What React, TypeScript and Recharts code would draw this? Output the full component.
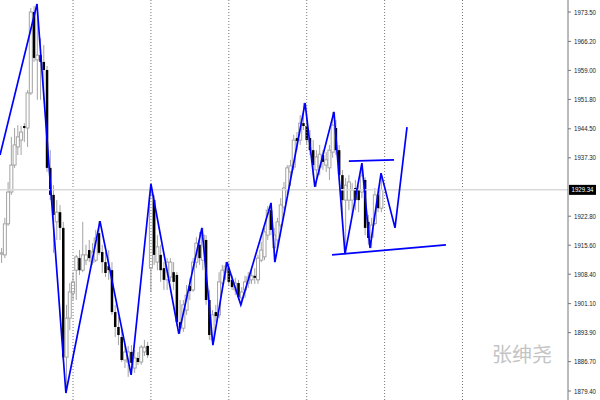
import React from 'react';
import { ComposedChart, Bar, Line, XAxis, YAxis, ReferenceLine } from 'recharts';

// H1 candles (index = bar number from the left edge)
const opens = [
  1913.4, 1913.2, 1920.9, 1928.8, 1935.5, 1940.0, 1941.7, 1945.2, 1944.7, 1953.4,
  1973.5, 1961.6, 1962.8, 1961.1, 1959.1, 1934.8, 1928.1, 1921.4, 1923.8, 1919.9,
  1887.8, 1897.5, 1903.7, 1909.4, 1912.4, 1909.4, 1911.9, 1914.4, 1911.4, 1911.9,
  1918.6, 1913.9, 1911.4, 1910.4, 1909.4, 1899.0, 1895.3, 1892.8, 1887.1, 1886.6,
  1889.1, 1885.1, 1887.6, 1886.6, 1889.1, 1890.6, 1909.9, 1926.8, 1911.4, 1913.2,
  1909.9, 1907.0, 1907.7, 1908.9, 1908.2, 1896.5, 1895.0, 1899.5, 1905.5, 1904.5,
  1911.4, 1915.7, 1911.9, 1916.9, 1902.0, 1892.1, 1899.0, 1898.3, 1906.2, 1908.9,
  1909.9, 1907.0, 1904.5, 1906.2, 1902.5, 1904.5, 1906.2, 1907.0, 1908.0, 1907.0,
  1911.9, 1912.7, 1918.1, 1924.3, 1915.0, 1916.9, 1920.6, 1925.1, 1929.3, 1933.8,
  1935.0, 1942.2, 1941.7, 1945.9, 1945.2, 1942.2, 1939.2, 1934.3, 1935.0, 1938.0,
  1935.5, 1934.8, 1938.7, 1944.7, 1939.2, 1933.0, 1926.8, 1926.8, 1926.8, 1929.8,
  1929.3, 1928.8, 1931.8, 1921.4, 1917.6, 1921.0, 1928.1, 1924.8,
];
const highs = [
  1914.9, 1922.4, 1931.3, 1942.5, 1944.7, 1945.4, 1945.2, 1945.9, 1954.1, 1974.5,
  1975.0, 1975.5, 1967.0, 1965.3, 1960.1, 1939.2, 1930.5, 1926.8, 1925.6, 1921.4,
  1900.8, 1906.2, 1908.9, 1913.2, 1914.4, 1921.4, 1915.7, 1916.9, 1916.1, 1919.4,
  1921.6, 1915.7, 1913.9, 1914.4, 1911.4, 1900.8, 1897.8, 1894.5, 1890.8, 1890.6,
  1890.8, 1889.6, 1889.1, 1890.8, 1892.1, 1891.6, 1931.0, 1928.1, 1918.1, 1915.7,
  1911.4, 1912.4, 1912.4, 1911.4, 1908.9, 1902.0, 1902.0, 1905.7, 1907.5, 1912.4,
  1917.6, 1918.9, 1919.9, 1918.1, 1904.5, 1899.5, 1900.8, 1908.9, 1910.7, 1911.4,
  1911.4, 1908.2, 1907.5, 1907.0, 1905.2, 1908.0, 1908.9, 1909.4, 1909.9, 1913.2,
  1916.4, 1919.9, 1925.3, 1926.1, 1919.9, 1922.4, 1927.3, 1931.3, 1935.5, 1936.8,
  1943.0, 1943.7, 1947.9, 1950.9, 1947.2, 1944.2, 1941.7, 1939.2, 1940.5, 1939.2,
  1938.7, 1940.5, 1948.7, 1946.7, 1940.5, 1934.3, 1932.3, 1933.0, 1931.0, 1931.8,
  1930.5, 1936.0, 1932.5, 1923.1, 1922.4, 1929.8, 1929.8, 1932.8,
];
const lows = [
  1911.2, 1912.4, 1920.4, 1928.1, 1934.8, 1938.0, 1938.0, 1941.2, 1940.0, 1952.9,
  1961.1, 1951.7, 1951.7, 1951.7, 1933.8, 1926.8, 1913.7, 1916.9, 1916.9, 1887.1,
  1878.9, 1894.5, 1902.0, 1902.0, 1908.2, 1908.9, 1910.7, 1911.4, 1910.7, 1911.4,
  1913.2, 1908.7, 1907.7, 1907.0, 1898.3, 1892.8, 1890.8, 1886.6, 1885.1, 1882.9,
  1883.4, 1883.9, 1885.9, 1885.9, 1888.1, 1887.6, 1904.0, 1910.7, 1909.4, 1906.5,
  1904.5, 1904.5, 1906.5, 1904.5, 1895.5, 1893.6, 1894.1, 1898.3, 1902.0, 1904.0,
  1909.9, 1910.7, 1909.4, 1900.8, 1892.1, 1890.8, 1896.5, 1897.5, 1904.5, 1907.0,
  1905.5, 1904.5, 1903.2, 1902.0, 1900.8, 1902.5, 1905.0, 1906.0, 1906.0, 1906.0,
  1911.4, 1911.9, 1916.9, 1918.1, 1911.4, 1914.4, 1919.9, 1924.3, 1928.1, 1930.3,
  1934.3, 1939.2, 1940.5, 1944.2, 1940.5, 1938.0, 1933.0, 1930.1, 1933.0, 1934.3,
  1933.8, 1931.8, 1937.3, 1938.0, 1931.8, 1923.1, 1914.4, 1924.3, 1923.1, 1924.3,
  1923.8, 1927.3, 1918.1, 1915.7, 1914.9, 1920.5, 1923.8, 1923.8,
];
const closes = [
  1913.7, 1920.9, 1928.8, 1935.5, 1940.5, 1942.5, 1943.7, 1944.7, 1953.4, 1973.5,
  1962.1, 1962.8, 1961.1, 1959.1, 1934.8, 1928.1, 1923.1, 1923.8, 1919.9, 1887.8,
  1897.5, 1904.0, 1906.5, 1912.7, 1909.4, 1913.2, 1913.2, 1912.4, 1913.9, 1917.4,
  1913.7, 1911.4, 1908.7, 1909.4, 1899.0, 1895.3, 1893.3, 1887.1, 1889.1, 1889.1,
  1886.4, 1887.6, 1886.6, 1890.3, 1890.3, 1888.3, 1928.1, 1913.2, 1915.2, 1909.4,
  1907.0, 1911.4, 1911.4, 1906.5, 1896.5, 1895.0, 1900.8, 1903.2, 1904.2, 1911.4,
  1916.1, 1912.4, 1918.1, 1902.0, 1893.3, 1898.3, 1898.0, 1906.5, 1909.4, 1910.4,
  1906.5, 1905.2, 1906.2, 1902.7, 1904.0, 1906.5, 1907.7, 1908.0, 1907.5, 1912.4,
  1914.4, 1918.9, 1924.3, 1919.4, 1918.1, 1921.4, 1925.6, 1929.8, 1934.8, 1935.3,
  1941.7, 1941.5, 1945.9, 1945.2, 1941.7, 1939.2, 1935.5, 1937.5, 1938.2, 1936.3,
  1936.8, 1939.2, 1945.4, 1939.2, 1933.0, 1926.8, 1930.5, 1931.3, 1929.3, 1926.8,
  1926.8, 1932.8, 1919.9, 1917.4, 1920.6, 1928.1, 1924.8, 1929.34,
];

// blue zigzag (bar position, price), last two legs are the projection
const zigzagBar = [
  -0.5, 10.9, 19.8, 30.3, 39.9, 46.0, 54.6, 61.7, 65.1, 69.4, 73.7,
  83.0, 84.2, 93.5, 96.5, 102.4, 105.8, 111.0, 113.5, 116.9, 121.2, 124.9,
];
const zigzagPrice = [
  1938.0, 1975.5, 1878.9, 1921.6, 1883.4, 1930.8, 1893.6, 1919.9, 1890.8, 1911.4, 1900.8,
  1926.1, 1911.4, 1950.9, 1930.1, 1948.7, 1913.4, 1936.0, 1914.9, 1933.5, 1919.9, 1944.9,
];

// hand drawn trend lines
const resistanceLine = [{ x: 107.0, y: 1936.5 }, { x: 120.9, y: 1936.8 }];
const supportLine = [{ x: 101.8, y: 1913.2 }, { x: 136.9, y: 1915.7 }];

const daySeparators = [22, 46, 70, 94, 118, 142];
const priceTicks = [
  1879.4, 1886.7, 1893.9, 1901.1, 1908.4, 1915.6, 1922.8,
  1937.3, 1944.5, 1951.8, 1959.0, 1966.2, 1973.5,
];
const lastPrice = 1929.34;

const candles = opens.map((o, i) => ({
  i,
  open: o,
  high: highs[i],
  low: lows[i],
  close: closes[i],
}));
const zigzag = zigzagBar.map((b, k) => ({ i: b, zz: zigzagPrice[k] }));

const FONT = '"Liberation Sans", Arial, sans-serif';

const Candle = (props: any) => {
  const { x, y, width, height, payload } = props;
  if (x == null || y == null) return null;
  const top = Math.min(y, y + height);
  const h = Math.abs(height);
  const span = payload.high - payload.low;
  const k = span > 0 ? h / span : 0;
  const cx = x + width / 2;
  const py = (v: number) => top + (payload.high - v) * k;
  const yo = py(payload.open);
  const yc = py(payload.close);
  const bTop = Math.min(yo, yc);
  const bH = Math.max(Math.abs(yo - yc), 1);
  const up = payload.close >= payload.open;
  return (
    <g>
      <line x1={cx} x2={cx} y1={top} y2={top + h} stroke="#a3a3a3" strokeWidth={1} />
      {up ? (
        <rect x={cx - 1.5} y={bTop} width={3} height={bH} fill="#fff" stroke="#a3a3a3" strokeWidth={1} />
      ) : (
        <rect x={cx - 1.25} y={bTop} width={2.5} height={bH} fill="#000" />
      )}
    </g>
  );
};

const PriceTick = (props: any) => {
  const { x, y, payload } = props;
  return (
    <text x={x + 1} y={y + 2.5} fontSize={7} fill="#222" fontFamily={FONT}
      textLength={22} lengthAdjust="spacingAndGlyphs">
      {Number(payload.value).toFixed(2)}
    </text>
  );
};

const LastPriceTag = (props: any) => {
  const { viewBox } = props;
  if (!viewBox) return null;
  const x = viewBox.x + viewBox.width + 1;
  const y = viewBox.y;
  return (
    <g>
      <rect x={x} y={y - 5} width={27} height={10} fill="#000" />
      <text x={x + 2.5} y={y + 2.5} fontSize={7} fill="#fff" fontFamily={FONT}
        textLength={22} lengthAdjust="spacingAndGlyphs">
        {lastPrice.toFixed(2)}
      </text>
    </g>
  );
};

const App: React.FC = () => {
  return (
    <div style={{ position: 'absolute', left: 0, top: 0, width: 600, height: 400, background: '#fff' }}>
      <ComposedChart width={600} height={400} data={candles} margin={{ top: 0, right: 0, bottom: 0, left: 0 }}>
        <XAxis dataKey="i" type="number" domain={[-0.5, 174.5]} allowDataOverflow hide />
        <YAxis
          orientation="right"
          width={32}
          type="number"
          domain={[1877.17, 1976.48]}
          allowDataOverflow
          ticks={priceTicks}
          interval={0}
          tickSize={3}
          stroke="#777"
          tick={<PriceTick />}
        />
        {daySeparators.map((d) => (
          <ReferenceLine key={d} x={d} stroke="#777" strokeDasharray="1 2" />
        ))}
        <ReferenceLine y={lastPrice} stroke="#d9d9d9" strokeWidth={1.5} label={<LastPriceTag />} />
        <Bar
          dataKey={(d: any) => [d.low, d.high]}
          barSize={3}
          isAnimationActive={false}
          shape={(p: any) => <Candle {...p} />}
        />
        <Line
          data={zigzag}
          dataKey="zz"
          stroke="#0000ff"
          strokeWidth={1.7}
          dot={false}
          activeDot={false}
          isAnimationActive={false}
        />
        <ReferenceLine segment={resistanceLine} stroke="#0000ff" strokeWidth={1.7} />
        <ReferenceLine segment={supportLine} stroke="#0000ff" strokeWidth={1.7} />
      </ComposedChart>
      <div
        style={{
          position: 'absolute',
          left: 492,
          top: 344,
          fontSize: 20,
          lineHeight: '20px',
          color: '#c4c4c4',
          fontFamily: '"Noto Sans CJK SC", sans-serif',
        }}
      >
        张绅尧
      </div>
    </div>
  );
};

export default App;
